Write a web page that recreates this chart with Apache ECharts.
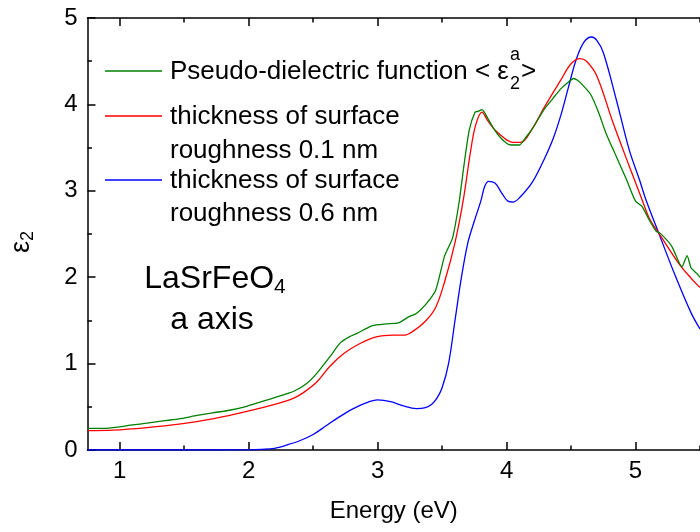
<!DOCTYPE html>
<html><head><meta charset="utf-8">
<script src="https://cdn.jsdelivr.net/npm/echarts@6/dist/echarts.min.js"></script>
<style>html,body{margin:0;padding:0;background:#fff}#c{width:700px;height:532px}</style>
</head><body><div id="c"></div>
<script>
// ---- data ----
const greenE = [0.75,0.85,0.95,1.1,1.21,1.35,1.46,1.6,1.72,1.85,1.97,2.1,2.23,2.35,2.45,2.53,2.63,2.71,2.78,2.84,2.96,3.07,3.16,3.24,3.3,3.37,3.45,3.52,3.58,3.63,3.67,3.71,3.755,3.78,3.81,3.85,3.9,3.95,4.0,4.035,4.1,4.15,4.2,4.29,4.36,4.42,4.48,4.52,4.55,4.58,4.65,4.71,4.77,4.85,4.93,5.0,5.05,5.1,5.16,5.19,5.28,5.36,5.40,5.43,5.47,5.5];
const greenV = [0.25,0.25,0.26,0.29,0.31,0.34,0.36,0.40,0.43,0.46,0.50,0.56,0.62,0.68,0.77,0.89,1.08,1.24,1.31,1.35,1.44,1.46,1.47,1.54,1.58,1.68,1.85,2.25,2.45,2.85,3.3,3.7,3.91,3.92,3.94,3.85,3.72,3.62,3.55,3.53,3.53,3.62,3.72,3.94,4.07,4.18,4.26,4.30,4.28,4.24,4.12,3.92,3.67,3.40,3.13,2.88,2.82,2.68,2.53,2.51,2.36,2.12,2.25,2.11,2.05,2.0];
const redE = [0.75,0.95,1.21,1.46,1.72,1.97,2.23,2.35,2.43,2.53,2.63,2.74,2.86,2.99,3.12,3.21,3.27,3.37,3.45,3.52,3.6,3.665,3.72,3.76,3.81,3.85,3.9,3.95,4.0,4.05,4.11,4.2,4.29,4.42,4.5,4.57,4.62,4.70,4.825,4.95,5.05,5.11,5.18,5.33,5.43,5.5];
const redV = [0.224,0.23,0.26,0.30,0.36,0.44,0.54,0.60,0.67,0.79,0.97,1.12,1.23,1.31,1.33,1.33,1.37,1.49,1.65,1.95,2.4,2.9,3.45,3.76,3.91,3.82,3.72,3.65,3.59,3.56,3.56,3.72,3.96,4.28,4.47,4.53,4.50,4.33,3.79,3.29,2.90,2.67,2.51,2.17,1.99,1.88];
const blueE = [0.75,1.5,2.0,2.1,2.2,2.3,2.4,2.5,2.6,2.7,2.8,2.9,3.0,3.1,3.2,3.3,3.37,3.42,3.46,3.5,3.55,3.6,3.65,3.7,3.75,3.8,3.83,3.86,3.91,3.96,4.01,4.05,4.1,4.2,4.29,4.36,4.42,4.48,4.54,4.6,4.66,4.7,4.75,4.85,4.95,5.03,5.08,5.18,5.31,5.43,5.5];
const blueV = [0,0,0.002,0.008,0.02,0.06,0.11,0.18,0.28,0.38,0.47,0.54,0.58,0.56,0.51,0.48,0.49,0.53,0.6,0.72,1.0,1.5,2.0,2.4,2.65,2.88,3.05,3.11,3.09,2.98,2.88,2.87,2.92,3.1,3.36,3.6,3.87,4.2,4.52,4.72,4.78,4.74,4.60,4.06,3.48,3.13,2.90,2.51,2.01,1.59,1.4];
const xMajorTicks = [1,2,3,4,5];
const xMinorTicks = [1.5,2.5,3.5,4.5,5.5];
const yMajorTicks = [0,1,2,3,4,5];
const seriesNames = ['Pseudo-dielectric function', 'thickness of surface roughness 0.1 nm', 'thickness of surface roughness 0.6 nm'];

// ---- chart ----
const FONT = '"Liberation Sans", Arial, sans-serif';
const pairs = (e, v) => e.map((x, i) => [x, v[i]]);
const chart = echarts.init(document.getElementById('c'), null, {renderer: 'canvas'});

const gridPos = {left: 87, top: 18, right: -8, bottom: 82};
const X0 = 0.75, X1 = 5.5;

function xAxisDef(gridIndex, pos, ticks, len, labels, line) {
  return {
    type: 'value', gridIndex, position: pos, min: X0, max: X1,
    axisLine: {show: line, lineStyle: {color: '#000', width: 1.5}},
    axisTick: {show: true, inside: true, length: len, customValues: ticks, lineStyle: {color: '#000', width: 1.5}},
    axisLabel: labels ? {show: true, customValues: ticks, color: '#000', fontSize: 24, fontFamily: FONT, margin: 9} : {show: false},
    splitLine: {show: false},
    name: labels ? 'Energy (eV)' : '',
    nameLocation: 'middle', nameGap: 49,
    nameTextStyle: {color: '#000', fontSize: 24, fontFamily: FONT}
  };
}

const ctx = document.createElement('canvas').getContext('2d');
ctx.font = '26px ' + FONT;
const legStr = 'Pseudo-dielectric function < ε';
const wLeg = ctx.measureText(legStr).width;
const lx = 170;
const supX = lx + wLeg + 1;
ctx.font = '18px ' + FONT;
const wSup = ctx.measureText('2').width;

const txt = (x, y, s, size, align) => ({
  type: 'text', x, y, silent: true,
  style: {text: s, fill: '#000', font: size + 'px ' + FONT, textAlign: align || 'left', textVerticalAlign: 'middle'}
});
const ln = (y, c) => ({type: 'line', silent: true, shape: {x1: 105, y1: y, x2: 162, y2: y}, style: {stroke: c, lineWidth: 1.3}});

chart.setOption({
  animation: false,
  backgroundColor: '#fff',
  grid: [Object.assign({}, gridPos), Object.assign({}, gridPos)],
  xAxis: [
    xAxisDef(0, 'bottom', xMajorTicks, 8, true, true),
    xAxisDef(0, 'top', xMajorTicks, 8, false, true),
    xAxisDef(1, 'bottom', xMinorTicks, 4.5, false, false),
    xAxisDef(1, 'top', xMinorTicks, 4.5, false, false)
  ],
  yAxis: [
    {
      type: 'value', gridIndex: 0, min: 0, max: 5, interval: 1,
      axisLine: {show: true, lineStyle: {color: '#000', width: 1.5}},
      axisTick: {show: true, inside: true, length: 8, lineStyle: {color: '#000', width: 1.5}},
      minorTick: {show: true, splitNumber: 2, length: 4.5, lineStyle: {color: '#000', width: 1.5}},
      axisLabel: {color: '#000', fontSize: 24, fontFamily: FONT, margin: 10, customValues: yMajorTicks},
      splitLine: {show: false},
      name: '{e|ε}{s|2}', nameLocation: 'middle', nameGap: 50, nameRotate: 90,
      nameTextStyle: {color: '#000', fontFamily: FONT, padding: [0, 16, 0, 0], rich: {
        e: {fontSize: 27, fontFamily: FONT, color: '#000'},
        s: {fontSize: 18, fontFamily: FONT, color: '#000', verticalAlign: 'bottom', padding: [14, 0, 0, 0]}
      }}
    },
    {type: 'value', gridIndex: 1, min: 0, max: 5, show: false}
  ],
  series: [
    {name: seriesNames[0], type: 'line', xAxisIndex: 0, yAxisIndex: 0, data: pairs(greenE, greenV), showSymbol: false, smooth: 0.2, lineStyle: {color: '#008000', width: 1.3}, z: 3},
    {name: seriesNames[1], type: 'line', xAxisIndex: 0, yAxisIndex: 0, data: pairs(redE, redV), showSymbol: false, smooth: 0.35, lineStyle: {color: '#ff0000', width: 1.3}, z: 2},
    {name: seriesNames[2], type: 'line', xAxisIndex: 0, yAxisIndex: 0, data: pairs(blueE, blueV), showSymbol: false, smooth: 0.35, lineStyle: {color: '#0000ff', width: 1.3}, z: 1}
  ],
  graphic: [
    ln(71, '#008000'), ln(116, '#ff0000'), ln(180, '#0000ff'),
    txt(lx, 72, legStr, 26),
    txt(supX, 55, 'a', 18),
    txt(supX, 84, '2', 18),
    txt(supX + wSup + 1, 72, '>', 26),
    txt(lx, 117, 'thickness of surface', 26),
    txt(lx, 151, 'roughness 0.1 nm', 26),
    txt(lx, 181, 'thickness of surface', 26),
    txt(lx, 214, 'roughness 0.6 nm', 26),
    {type: 'text', x: 215, y: 279, silent: true, style: {
      text: '{m|LaSrFeO}{s|4}', textAlign: 'center', textVerticalAlign: 'middle',
      rich: {m: {fontSize: 32, fontFamily: FONT, fill: '#000', color: '#000'}, s: {fontSize: 21, fontFamily: FONT, color: '#000', fill: '#000', verticalAlign: 'bottom', padding: [16, 0, 0, 0]}}
    }},
    txt(212, 320, 'a axis', 32, 'center')
  ]
});
</script>
</body></html>
